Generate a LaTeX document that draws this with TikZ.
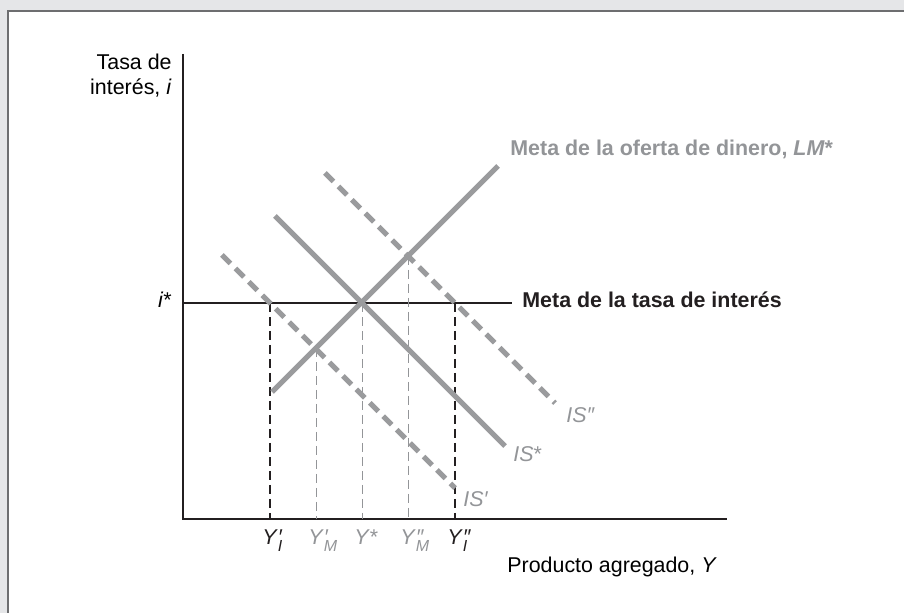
\documentclass[tikz,border=0pt]{standalone}
\usepackage{fontspec}
\setmainfont{Liberation Sans}
\definecolor{bgband}{HTML}{E5E6E8}
\definecolor{framecol}{HTML}{6D6E70}
\definecolor{curvegray}{HTML}{9A9B9D}
\definecolor{labgray}{HTML}{939598}
\definecolor{inkblack}{HTML}{231F20}
\newcommand{\Ylab}[2]{\textit{Y}\rlap{\textit{#1}}\raisebox{-0.6ex}{\fontsize{8}{8}\selectfont\textit{#2}}}
\tikzset{
  curve/.style={line width=2.5pt, curvegray},
  dcurve/.style={curve, dash pattern=on 6pt off 3.5pt},
  axisline/.style={line width=0.8pt, inkblack},
  guideblack/.style={line width=0.6pt, inkblack, dash pattern=on 4.5pt off 2.5pt},
  guidegray/.style={line width=0.5pt, labgray, dash pattern=on 4.5pt off 2.5pt},
  lab/.style={inner sep=0pt, font=\fontsize{10.7}{12.5}\selectfont},
  boldlab/.style={lab, anchor=base west, font=\fontsize{10.7}{12.5}\selectfont\bfseries},
  ylab/.style={lab, anchor=base west},
}
\begin{document}
\begin{tikzpicture}[x=0.5pt,y=-0.5pt]
\useasboundingbox (0,0) rectangle (904,613);
\fill[bgband] (0,0) rectangle (904,613);
\fill[white] (8,11) rectangle (904,613);
\draw[framecol, line width=1pt] (8,613) -- (8,11) -- (904,11);

% axes
\coordinate (ytop) at (183,54);
\coordinate (O) at (183,519);
\coordinate (xend) at (727,519);
\draw[axisline] (ytop) -- (O) -- (xend);

% interest target line
\coordinate (istart) at (183,303);
\coordinate (iend) at (512,303);
\draw[axisline, line width=0.75pt] (istart) -- (iend);

% key points
\coordinate (EI1) at (270,303);
\coordinate (EM1) at (316,348);
\coordinate (Estar) at (362,303);
\coordinate (EM2) at (408,256);
\coordinate (EI2) at (455,303);
\coordinate (BI1) at (270,519);
\coordinate (BM1) at (316,519);
\coordinate (Bstar) at (362,519);
\coordinate (BM2) at (408,519);
\coordinate (BI2) at (455,519);

% guides
\draw[guideblack] (EI1) -- (BI1);
\draw[guidegray] (EM1) -- (BM1);
\draw[guidegray] (Estar) -- (Bstar);
\draw[guidegray] (EM2) -- (BM2);
\draw[guideblack] (EI2) -- (BI2);

% curves
\coordinate (LMa) at (272,392);
\coordinate (LMb) at (498,166);
\coordinate (ISa) at (275,216);
\coordinate (ISb) at (505,446);
\coordinate (IS2a) at (325,173);
\coordinate (IS2b) at (555,403);
\coordinate (IS1a) at (222,255);
\coordinate (IS1b) at (455,488);
\draw[dcurve] (IS1a) -- (IS1b);
\draw[dcurve] (IS2a) -- (IS2b);
\draw[curve] (ISa) -- (ISb);
\draw[curve] (LMa) -- (LMb);

% labels
\node[lab, anchor=base east] (tasa) at (172,70) {Tasa de};
\node[lab, anchor=base east] (interes) at (172,95) {interés, \textit{i}};
\node[lab, anchor=base east] (istar) at (172,308) {\textit{i}*};
\node[boldlab, inkblack] (metai) at (522,308) {Meta de la tasa de interés};
\node[boldlab, labgray] (metalm) at (510,156) {Meta de la oferta de dinero, \textit{LM}*};
\node[lab, anchor=base west, labgray] (lis2) at (566,423) {\textit{IS″}};
\node[lab, anchor=base west, labgray] (lisstar) at (513,462) {\textit{IS}*};
\node[lab, anchor=base west, labgray] (lis1) at (463,507) {\textit{IS′}};

\node[ylab, inkblack] (yi1) at (262,545) {\Ylab{′}{I}};
\node[ylab, labgray] (ym1) at (308,545) {\Ylab{′}{M}};
\node[ylab, labgray] (ystar) at (354,545) {\textit{Y}*};
\node[ylab, labgray] (ym2) at (400,545) {\Ylab{″}{M}};
\node[ylab, inkblack] (yi2) at (447,545) {\Ylab{″}{I}};

\node[lab, anchor=base west] (prod) at (507,573) {Producto agregado, \textit{Y}};
\end{tikzpicture}
\end{document}
